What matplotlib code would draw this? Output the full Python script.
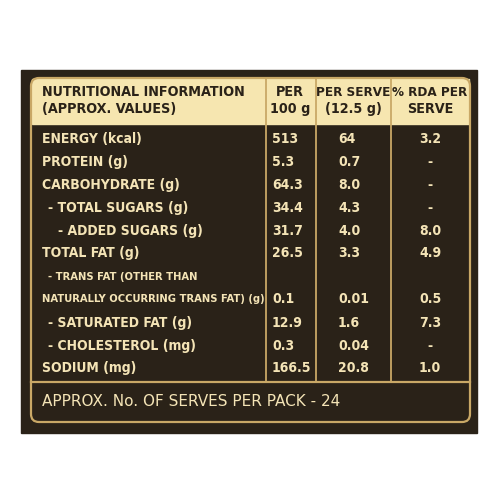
import matplotlib
matplotlib.use("Agg")
import matplotlib.pyplot as plt
from matplotlib.patches import FancyBboxPatch, Rectangle

labels = ["ENERGY (kcal)", "PROTEIN (g)", "CARBOHYDRATE (g)", "- TOTAL SUGARS (g)",
          "- ADDED SUGARS (g)", "TOTAL FAT (g)", "- TRANS FAT (OTHER THAN",
          "NATURALLY OCCURRING TRANS FAT) (g)", "- SATURATED FAT (g)",
          "- CHOLESTEROL (mg)", "SODIUM (mg)"]
indent = [0, 0, 0, 6, 16, 0, 6, 0, 6, 6, 0]
per100 = ["513", "5.3", "64.3", "34.4", "31.7", "26.5", "", "0.1", "12.9", "0.3", "166.5"]
perserve = ["64", "0.7", "8.0", "4.3", "4.0", "3.3", "", "0.01", "1.6", "0.04", "20.8"]
rda = ["3.2", "-", "-", "-", "8.0", "4.9", "", "0.5", "7.3", "-", "1.0"]
row_y = [139, 162, 185, 208, 231, 253, 277, 299, 323, 346, 368]
footer = "APPROX. No. OF SERVES PER PACK - 24"

DARK = "#2a2218"
CREAM = "#f6e6b0"
GOLD = "#c9a866"
TXT = "#f4e4b6"
FAM = ["DejaVu Sans"]

fig = plt.figure(figsize=(5, 5), dpi=100)
ax = fig.add_axes([0, 0, 1, 1])
ax.set_xlim(0, 500); ax.set_ylim(500, 0); ax.axis("off")

ax.add_patch(Rectangle((21, 70), 456, 363, color=DARK))
ax.add_patch(Rectangle((32, 79), 437, 45, color=CREAM))
ax.add_patch(FancyBboxPatch((31, 78), 439, 344, boxstyle="round,pad=0,rounding_size=8",
                            fc="none", ec=GOLD, lw=1.6))
ax.plot([31, 470], [382, 382], color=GOLD, lw=1.6)
for x in (266, 316, 391):
    ax.plot([x, x], [79, 382], color=GOLD, lw=1.3)

kw = dict(fontsize=10.0, fontweight="bold", family=FAM, stretch="condensed", va="center")
hkw = dict(kw, fontsize=10.3)
skw = dict(kw, fontsize=9.6)
ax.text(42, 92, "NUTRITIONAL INFORMATION", color=DARK, **hkw)
ax.text(42, 109, "(APPROX. VALUES)", color=DARK, **hkw)
ax.text(290, 92, "PER", color=DARK, ha="center", **hkw)
ax.text(290, 109, "100 g", color=DARK, ha="center", **hkw)
ax.text(353, 92, "PER SERVE", color=DARK, ha="center", **skw)
ax.text(353, 109, "(12.5 g)", color=DARK, ha="center", **hkw)
ax.text(430, 92, "% RDA PER", color=DARK, ha="center", **skw)
ax.text(430, 109, "SERVE", color=DARK, ha="center", **hkw)

for i, y in enumerate(row_y):
    lkw = dict(kw)
    if i in (6, 7):
        lkw["fontsize"] = 8.0
    ax.text(42 + indent[i], y, labels[i], color=TXT, **lkw)
    ax.text(272, y, per100[i], color=TXT, **kw)
    ax.text(338, y, perserve[i], color=TXT, **kw)
    ax.text(430, y, rda[i], color=TXT, ha="center", **kw)

ax.text(42, 401, footer, color=TXT, fontsize=11.0, family=FAM, va="center")

fig.savefig("out.png", dpi=100, facecolor="white")
